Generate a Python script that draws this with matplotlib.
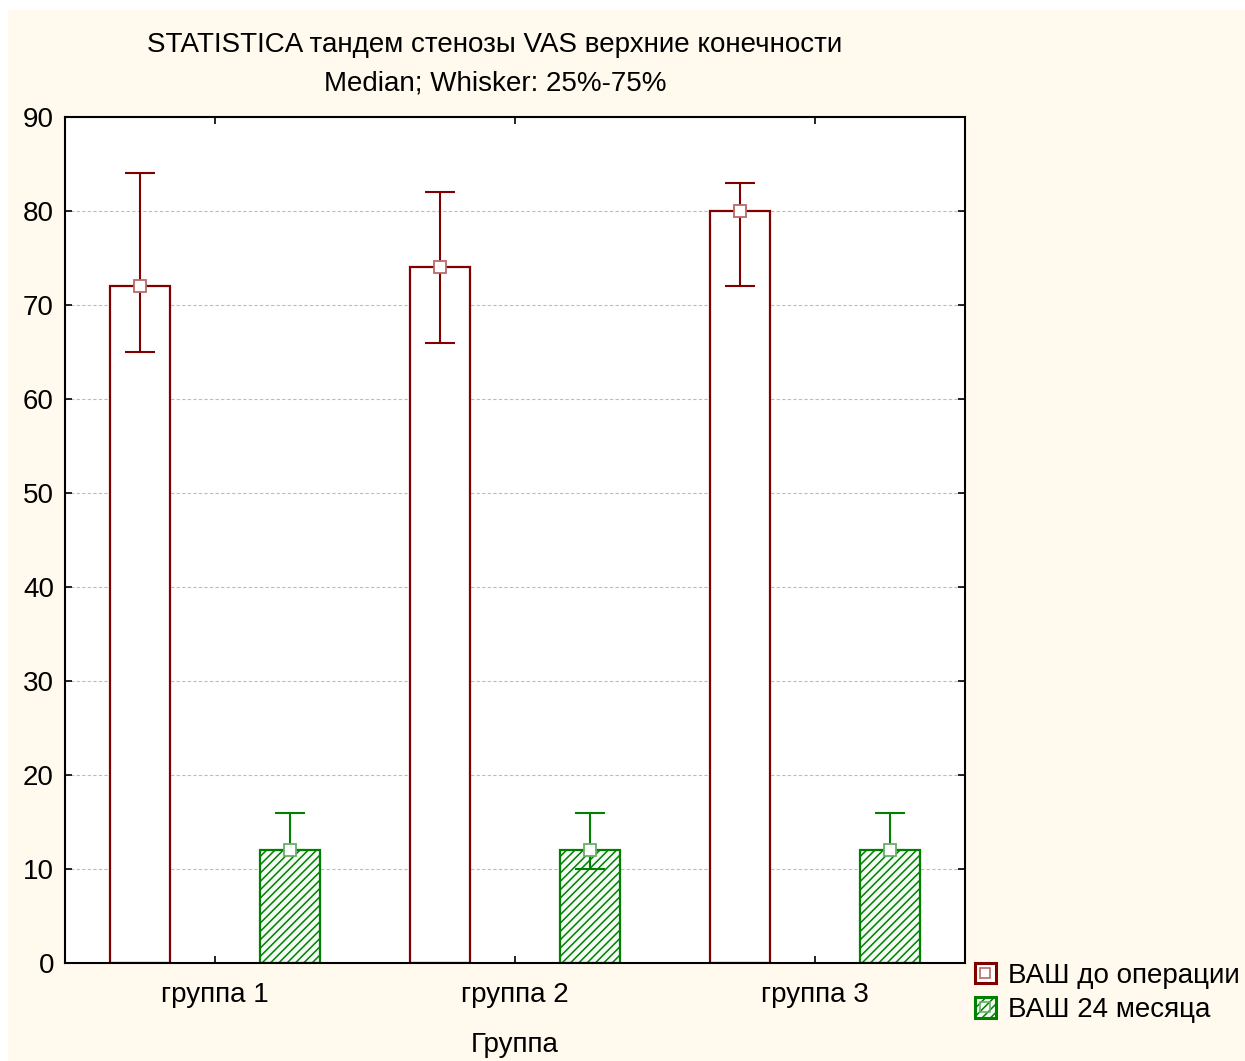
import numpy as np
import matplotlib
matplotlib.use("Agg")
import matplotlib.pyplot as plt
from matplotlib.patches import Rectangle, Patch
from matplotlib.lines import Line2D
from matplotlib.legend_handler import HandlerTuple

plt.rcParams['font.family'] = ['Liberation Sans', 'DejaVu Sans']
plt.rcParams['hatch.linewidth'] = 1.1

groups = ['группа 1', 'группа 2', 'группа 3']
pre_median = [72, 74, 80]
pre_q1 = [65, 66, 72]
pre_q3 = [84, 82, 83]
post_median = [12, 12, 12]
post_q1 = [12, 10, 12]
post_q3 = [16, 16, 16]

red = '#800000'
green = '#008000'
fs = 20

W, H = 1245, 1061
fig = plt.figure(figsize=(W / 100, H / 100), dpi=100, facecolor='white')
fig.patches.append(Rectangle((8 / W, 0), 1, 1 - 10 / H, transform=fig.transFigure,
                             facecolor='#FFF9EE', edgecolor='none', zorder=-10))

ax = fig.add_axes([65 / W, 1 - 963 / H, 900 / W, 846 / H])
ax.set_facecolor('white')

x = np.arange(len(groups))
off = 0.25
bw = 0.2

ax.bar(x - off, pre_median, width=bw, facecolor='white', edgecolor=red, linewidth=1.6, zorder=2)
ax.bar(x + off, post_median, width=bw, facecolor='#f4fbf4', edgecolor=green, linewidth=1.6,
       hatch='////', zorder=2)

pre_err = [np.array(pre_median) - np.array(pre_q1), np.array(pre_q3) - np.array(pre_median)]
post_err = [np.array(post_median) - np.array(post_q1), np.array(post_q3) - np.array(post_median)]
ax.errorbar(x - off, pre_median, yerr=pre_err, fmt='none', ecolor=red, elinewidth=1.5,
            capsize=10.8, capthick=1.5, zorder=3)
ax.errorbar(x + off, post_median, yerr=post_err, fmt='none', ecolor=green, elinewidth=1.5,
            capsize=10.8, capthick=1.5, zorder=3)
ax.plot(x - off, pre_median, 's', ms=8.5, mfc='white', mec='#b86a6a', mew=1.3, zorder=4)
ax.plot(x + off, post_median, 's', ms=8.5, mfc='white', mec='#6aae6a', mew=1.3, zorder=4)

ax.set_xlim(-0.5, 2.5)
ax.set_ylim(0, 90)
ax.set_yticks(range(0, 91, 10))
ax.set_xticks(x)
ax.set_xticklabels(groups)
ax.yaxis.grid(True, color='#bdbdbd', linestyle=(0, (3, 2)), linewidth=0.8)
ax.set_axisbelow(True)
ax.tick_params(axis='both', direction='in', length=5, width=1.2, labelsize=fs,
               top=True, right=True)
ax.tick_params(axis='y', pad=8)
ax.tick_params(axis='x', pad=14)
for s in ax.spines.values():
    s.set_linewidth(1.5)

ax.set_xlabel('Группа', fontsize=fs, labelpad=17)

fig.text(495 / W, 1 - 45 / H, 'STATISTICA тандем стенозы VAS верхние конечности',
         ha='center', va='center', fontsize=fs)
fig.text(495 / W, 1 - 83 / H, 'Median; Whisker: 25%-75%',
         ha='center', va='center', fontsize=fs)

h1 = (Patch(facecolor='white', edgecolor=red, linewidth=2.2),
      Line2D([], [], marker='s', ls='none', ms=7, mfc='white', mec='#b86a6a', mew=1.2))
h2 = (Patch(facecolor='#f4fbf4', edgecolor=green, linewidth=2.2, hatch='////'),
      Line2D([], [], marker='s', ls='none', ms=7, mfc='none', mec='#6aae6a', mew=1.2))
fig.legend([h1, h2], ['ВАШ до операции', 'ВАШ 24 месяца'],
           handler_map={tuple: HandlerTuple(ndivide=1, pad=0)},
           loc='upper left', bbox_to_anchor=(975 / W, 1 - 963 / H), frameon=False,
           fontsize=fs, handlelength=0.75, handleheight=0.75, handletextpad=0.45,
           labelspacing=0.3, borderpad=0, borderaxespad=0)

fig.savefig('out.png', dpi=100, facecolor=fig.get_facecolor())
